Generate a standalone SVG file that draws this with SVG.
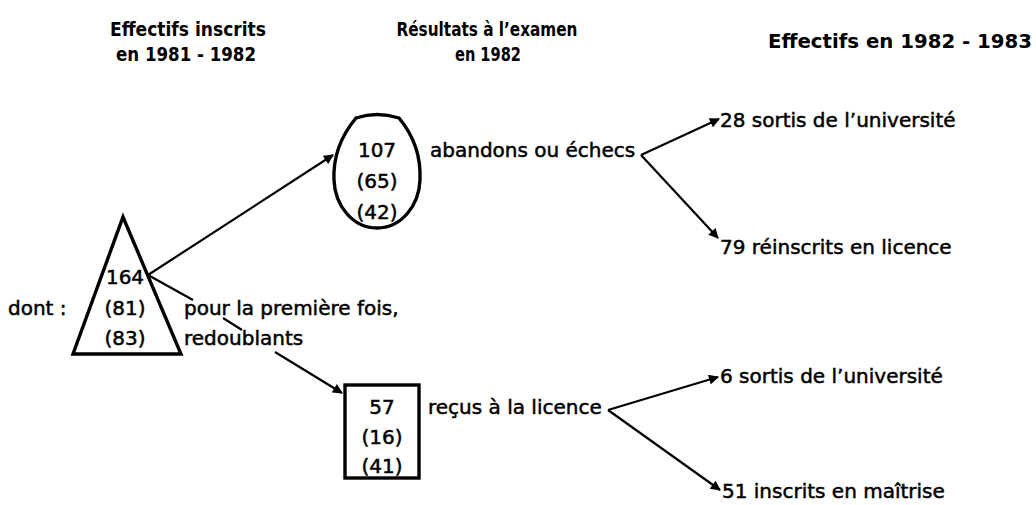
<svg xmlns="http://www.w3.org/2000/svg" width="1036" height="505" viewBox="0 0 1036 505">
<defs>
<marker id="ah" viewBox="0 0 10 10" refX="9" refY="5" markerWidth="11" markerHeight="10" markerUnits="userSpaceOnUse" orient="auto">
<path d="M0,0 L10,5 L0,10 Z" fill="#000"/>
</marker>
<style>
.hd{font-family:"DejaVu Sans",sans-serif;font-weight:bold;font-size:19px;fill:#000}
.t{font-family:"DejaVu Sans",sans-serif;font-size:20px;fill:#000;stroke:#000;stroke-width:0.5}
.shape{fill:none;stroke:#000;stroke-width:3.4}
.ln{fill:none;stroke:#000;stroke-width:2.2}
</style>
</defs>
<rect width="1036" height="505" fill="#fff"/>
<g id="headers">
<text class="hd" x="188" y="36" text-anchor="middle" textLength="156" lengthAdjust="spacingAndGlyphs">Effectifs inscrits</text>
<text class="hd" x="186" y="61" text-anchor="middle" textLength="140" lengthAdjust="spacingAndGlyphs">en 1981 - 1982</text>
<text class="hd" x="487" y="36" text-anchor="middle" textLength="181" lengthAdjust="spacingAndGlyphs">Résultats à l’examen</text>
<text class="hd" x="488" y="61" text-anchor="middle" textLength="66" lengthAdjust="spacingAndGlyphs">en 1982</text>
<text class="hd" x="900" y="48" text-anchor="middle" textLength="264" lengthAdjust="spacingAndGlyphs">Effectifs en 1982 - 1983</text>
</g>
<g id="inscrits">
<path class="shape" d="M123,217 L181,354 L73,354 Z"/>
<text class="t" x="125" y="284" text-anchor="middle">164</text>
<text class="t" x="125" y="315" text-anchor="middle">(81)</text>
<text class="t" x="125" y="345" text-anchor="middle">(83)</text>
<text class="t" x="8" y="315">dont :</text>
<text class="t" x="184" y="315">pour la première fois,</text>
<text class="t" x="184" y="345">redoublants</text>
</g>
<g id="echecs">
<path class="shape" d="M356,118 Q377,111 399,118 C414,136 421,158 420,180 C419,206 401,228 377,228 C353,228 335,206 334,180 C333,158 341,136 356,118 Z"/>
<text class="t" x="377" y="157" text-anchor="middle">107</text>
<text class="t" x="377" y="188" text-anchor="middle">(65)</text>
<text class="t" x="377" y="219" text-anchor="middle">(42)</text>
<text class="t" x="430" y="157">abandons ou échecs</text>
</g>
<g id="recus">
<rect class="shape" x="345" y="385" width="74" height="93"/>
<text class="t" x="382" y="414" text-anchor="middle">57</text>
<text class="t" x="382" y="444" text-anchor="middle">(16)</text>
<text class="t" x="382" y="473" text-anchor="middle">(41)</text>
<text class="t" x="428" y="414">reçus à la licence</text>
</g>
<g id="sortis1"><text class="t" x="720" y="127">28 sortis de l’université</text></g>
<g id="reinscrits"><text class="t" x="720" y="254">79 réinscrits en licence</text></g>
<g id="sortis2"><text class="t" x="720" y="383">6 sortis de l’université</text></g>
<g id="maitrise"><text class="t" x="722" y="498">51 inscrits en maîtrise</text></g>
<g id="connectors">
<line class="ln" x1="148" y1="275" x2="333" y2="155" marker-end="url(#ah)"/>
<line class="ln" x1="148" y1="275" x2="193" y2="300"/>
<line class="ln" x1="223" y1="318" x2="242" y2="330"/>
<line class="ln" x1="275" y1="352" x2="342" y2="393" marker-end="url(#ah)"/>
<line class="ln" x1="641" y1="155" x2="719" y2="119" marker-end="url(#ah)"/>
<line class="ln" x1="641" y1="155" x2="718" y2="238" marker-end="url(#ah)"/>
<line class="ln" x1="608" y1="410" x2="718" y2="377" marker-end="url(#ah)"/>
<line class="ln" x1="608" y1="410" x2="720" y2="490" marker-end="url(#ah)"/>
</g>
</svg>
